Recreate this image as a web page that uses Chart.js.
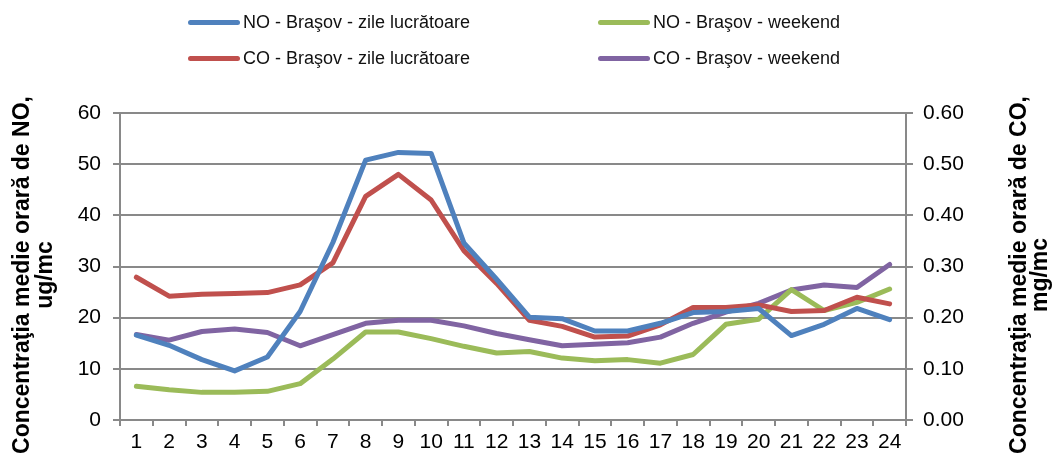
<!DOCTYPE html>
<html><head><meta charset="utf-8">
<script src="https://cdn.jsdelivr.net/npm/chart.js@4"></script>
<style>
html,body{margin:0;padding:0;background:#fff;}
#wrap{position:relative;width:1052px;height:461px;}
canvas{position:absolute;left:0;top:0;}
.lg{position:absolute;font-family:"Liberation Sans",Arial,sans-serif;font-size:18px;color:#111;white-space:nowrap;line-height:20px;}
.lg span.s{display:inline-block;width:52px;height:5px;border-radius:3px;vertical-align:middle;margin-right:3px;position:relative;top:-1px;}
</style></head><body>
<div id="wrap"><canvas id="c" width="1052" height="461"></canvas><div id="legend"></div></div>
<script>
const hours = ['1','2','3','4','5','6','7','8','9','10','11','12','13','14','15','16','17','18','19','20','21','22','23','24'];
const seriesNames = ['NO - Braşov - zile lucrătoare','NO - Braşov - weekend','CO - Braşov - zile lucrătoare','CO - Braşov - weekend'];
const seriesColors = ['#4F81BD','#9BBB59','#C0504D','#8064A2'];
const noWeekday = [16.6,14.6,11.8,9.6,12.3,21.2,34.7,50.8,52.3,52.1,34.6,27.5,20.1,19.8,17.4,17.4,18.9,21.0,21.2,21.8,16.5,18.7,21.8,19.6];
const noWeekend = [6.6,5.9,5.4,5.4,5.6,7.1,11.9,17.2,17.2,15.9,14.4,13.1,13.4,12.1,11.6,11.8,11.1,12.8,18.7,19.7,25.5,21.4,23.0,25.6];
const coWeekday = [0.279,0.242,0.246,0.247,0.249,0.264,0.307,0.437,0.480,0.430,0.331,0.267,0.195,0.183,0.162,0.164,0.186,0.220,0.220,0.225,0.212,0.214,0.240,0.227];
const coWeekend = [0.167,0.156,0.173,0.178,0.171,0.145,0.167,0.189,0.195,0.195,0.184,0.169,0.157,0.145,0.148,0.151,0.162,0.189,0.211,0.228,0.254,0.264,0.259,0.304];
const leftTicks = [0,10,20,30,40,50,60];
const rightTicks = ['0.00','0.10','0.20','0.30','0.40','0.50','0.60'];
const leftTitle = ['Concentraţia medie orară de NO,','ug/mc'];
const rightTitle = ['Concentraţia medie orară de CO,','mg/mc'];

// legend (2x2)
const pos = [[188,12],[598,12],[188,48],[598,48]];
const lg = document.getElementById('legend');
seriesNames.forEach((n,i)=>{
  const d=document.createElement('div');d.className='lg';
  d.style.left=pos[i][0]+'px';d.style.top=pos[i][1]+'px';
  d.innerHTML='<span class="s" style="background:'+seriesColors[i]+'"></span>'+n;
  lg.appendChild(d);
});

const GRAY='#898989';
const FAM='"Liberation Sans", Arial, sans-serif';
const tickFont={family:FAM,size:21};

const axisTitles={id:'axisTitles',afterDraw(chart){
  const ctx=chart.ctx;ctx.save();
  ctx.font='bold 23px '+FAM;ctx.fillStyle='#000';ctx.textAlign='center';ctx.textBaseline='alphabetic';
  const draw=(lines,xs,cy)=>{lines.forEach((t,i)=>{ctx.save();ctx.translate(xs[i],cy);ctx.rotate(-Math.PI/2);ctx.fillText(t,0,0);ctx.restore();});};
  draw(leftTitle,[29,52],275);
  draw(rightTitle,[1026,1047],275);
  ctx.restore();
}};

const mk=(i,data,axis)=>({label:seriesNames[i],data:data,yAxisID:axis,borderColor:seriesColors[i],backgroundColor:seriesColors[i],borderWidth:5,pointRadius:0,tension:0,fill:false,borderCapStyle:'round',borderJoinStyle:'round'});
new Chart(document.getElementById('c'),{
  type:'line',
  data:{labels:hours,datasets:[mk(0,noWeekday,'y'),mk(2,coWeekday,'y1'),mk(1,noWeekend,'y'),mk(3,coWeekend,'y1')]},
  plugins:[axisTitles],
  options:{
    responsive:false,animation:false,
    layout:{padding:{top:113,left:0,right:0,bottom:0}},
    plugins:{legend:{display:false},tooltip:{enabled:false}},
    scales:{
      x:{offset:true,
        grid:{offset:true,drawOnChartArea:false,drawTicks:true,tickLength:6,color:GRAY,lineWidth:2},
        border:{color:GRAY,width:2},
        ticks:{font:tickFont,color:'#000',padding:4,maxRotation:0,autoSkip:false},
        afterFit:s=>{s.height=41;}
      },
      y:{position:'left',min:0,max:60,
        afterBuildTicks:s=>{s.ticks=leftTicks.map(v=>({value:v}));},
        grid:{color:GRAY,lineWidth:2,tickLength:7},
        border:{color:GRAY,width:2},
        ticks:{font:tickFont,color:'#000',padding:12},
        afterFit:s=>{s.width=120;}
      },
      y1:{position:'right',min:0,max:0.6,
        afterBuildTicks:s=>{s.ticks=leftTicks.map(v=>({value:v/100}));},
        grid:{drawOnChartArea:false,color:GRAY,lineWidth:2,tickLength:7},
        border:{color:GRAY,width:2},
        ticks:{font:tickFont,color:'#000',padding:10,callback:(v,i)=>rightTicks[i]},
        afterFit:s=>{s.width=146;}
      }
    }
  }
});
</script>
</body></html>
